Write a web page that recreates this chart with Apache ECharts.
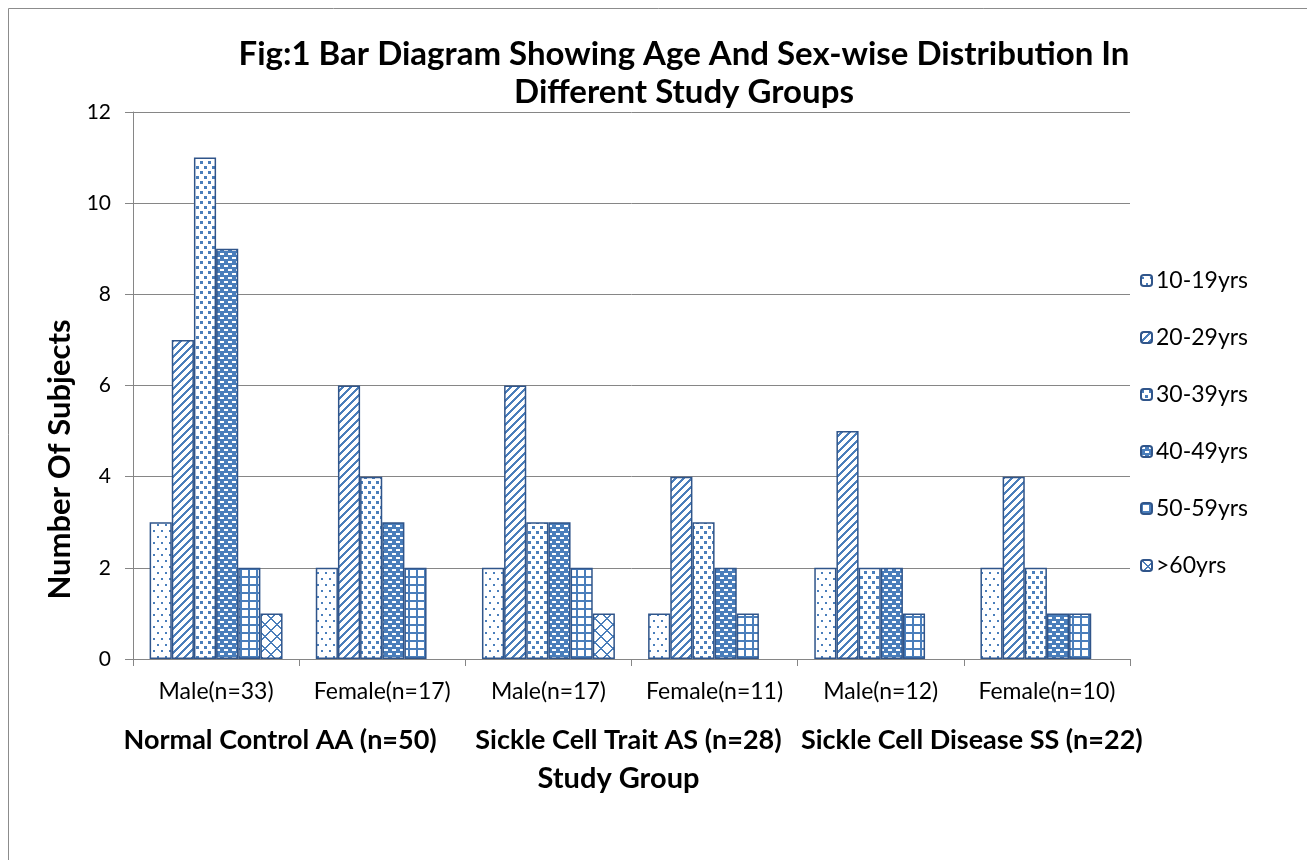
<!DOCTYPE html>
<html>
<head>
<meta charset="utf-8">
<script src="https://cdn.jsdelivr.net/npm/echarts@6/dist/echarts.min.js"></script>
<style>
html,body{margin:0;padding:0;background:#fff;}
#chart{width:1307px;height:860px;}
</style>
</head>
<body>
<div id="chart"></div>
<script>
const categories = ['Male(n=33)', 'Female(n=17)', 'Male(n=17)', 'Female(n=11)', 'Male(n=12)', 'Female(n=10)'];
const groups = ['Normal Control AA (n=50)', 'Sickle Cell Trait AS (n=28)', 'Sickle Cell Disease SS (n=22)'];
const seriesNames = ['10-19yrs', '20-29yrs', '30-39yrs', '40-49yrs', '50-59yrs', '>60yrs'];
const age10_19 = [3, 2, 2, 1, 2, 2];
const age20_29 = [7, 6, 6, 4, 5, 4];
const age30_39 = [11, 4, 3, 3, 2, 2];
const age40_49 = [9, 3, 3, 2, 2, 1];
const age50_59 = [2, 2, 2, 1, 1, 1];
const age60plus = [1, 0, 1, 0, 0, 0];
const yTicks = [0, 2, 4, 6, 8, 10, 12];

// style only: horizontal nudges (px) of the group labels
const groupLabelShift = [-19, -3, 8];

const BLUE = [74, 126, 187];
const WHITE = [255, 255, 255];
const FONT = 'Lato, "Liberation Sans", sans-serif';

function makeTile(w, h, fn) {
  const c = document.createElement('canvas');
  c.width = w; c.height = h;
  const ctx = c.getContext('2d');
  const img = ctx.createImageData(w, h);
  for (let y = 0; y < h; y++) {
    for (let x = 0; x < w; x++) {
      const col = fn(x, y) ? BLUE : WHITE;
      const i = (y * w + x) * 4;
      img.data[i] = col[0]; img.data[i + 1] = col[1]; img.data[i + 2] = col[2]; img.data[i + 3] = 255;
    }
  }
  ctx.putImageData(img, 0, 0);
  return c;
}

const patterns = [
  makeTile(8, 12, (x, y) => (x >= 1 && x <= 2 && y >= 2 && y <= 3) || (x >= 5 && x <= 6 && y >= 8 && y <= 9)),
  makeTile(8, 8, (x, y) => ((x + y) % 8) < 3),
  makeTile(8, 10, (x, y) => (x >= 0 && x <= 2 && y >= 1 && y <= 3) || (x >= 4 && x <= 6 && y >= 6 && y <= 8)),
  makeTile(8, 8, (x, y) => !((x >= 0 && x <= 3 && y >= 1 && y <= 2) || (x >= 4 && x <= 7 && y >= 5 && y <= 6))),
  makeTile(8, 8, (x, y) => x <= 1 || y <= 1),
  makeTile(12, 12, (x, y) => { const a = (x - y + 12) % 12; const b = (x + y) % 12; return a <= 1 || b <= 1; })
];

const allData = [age10_19, age20_29, age30_39, age40_49, age50_59, age60plus];

const series = allData.map((arr, i) => ({
  name: seriesNames[i],
  type: 'bar',
  xAxisIndex: 0,
  data: arr.map(v => v === 0 ? '-' : v),
  barGap: '0%',
  barCategoryGap: '20%',
  itemStyle: {
    color: { image: patterns[i], repeat: 'repeat' },
    borderColor: '#30558a',
    borderWidth: 1.5
  }
}));

const groupData = groups.map((g, i) => {
  const s = groupLabelShift[i];
  return {
    value: g,
    textStyle: { padding: s < 0 ? [0, -2 * s, 0, 0] : [0, 0, 0, 2 * s] }
  };
});

const chart = echarts.init(document.getElementById('chart'));
chart.setOption({
  animation: false,
  backgroundColor: '#fff',
  title: {
    text: 'Fig:1 Bar Diagram Showing Age And Sex-wise Distribution In\nDifferent Study Groups',
    left: 679,
    top: 30,
    textAlign: 'center',
    textStyle: { fontFamily: FONT, fontWeight: 'bold', fontSize: 33, lineHeight: 38, color: '#000' }
  },
  graphic: [{
    type: 'rect', shape: { x: 8.5, y: 8.5, width: 1320, height: 880 },
    style: { fill: 'none', stroke: '#8c8c8c', lineWidth: 1 }, silent: true
  }],
  legend: {
    orient: 'vertical',
    left: 1135,
    top: 264,
    itemWidth: 11,
    itemHeight: 11,
    itemGap: 34,
    data: seriesNames,
    textStyle: { fontFamily: FONT, fontSize: 23, color: '#000', padding: [0, 0, 0, -1] }
  },
  grid: { left: 133, right: 177, top: 112, bottom: 201, containLabel: false },
  xAxis: [{
    type: 'category',
    data: categories,
    position: 'bottom',
    axisLine: { lineStyle: { color: '#868686', width: 1 } },
    axisTick: { show: true, length: 7, lineStyle: { color: '#868686' } },
    axisLabel: { interval: 0, fontFamily: FONT, fontSize: 23, color: '#000', margin: 21 }
  }, {
    type: 'category',
    data: groupData,
    position: 'bottom',
    offset: 68,
    axisLine: { show: false },
    axisTick: { show: false },
    axisLabel: { interval: 0, fontFamily: FONT, fontSize: 27, fontWeight: 'bold', color: '#000', margin: 0 },
    name: 'Study Group',
    nameLocation: 'middle',
    nameGap: 37,
    nameTextStyle: { fontFamily: FONT, fontSize: 29, fontWeight: 'bold', color: '#000', padding: [0, 26, 0, 0] }
  }],
  yAxis: {
    type: 'value',
    min: yTicks[0],
    max: yTicks[yTicks.length - 1],
    interval: 2,
    axisLine: { show: true, lineStyle: { color: '#868686', width: 1 } },
    axisTick: { show: true, length: 8, lineStyle: { color: '#868686' } },
    axisLabel: { fontFamily: FONT, fontSize: 21, color: '#000', margin: 22 },
    splitLine: { lineStyle: { color: '#868686', width: 1 } },
    name: 'Number Of Subjects',
    nameLocation: 'middle',
    nameGap: 48,
    nameTextStyle: { fontFamily: FONT, fontSize: 31, fontWeight: 'bold', color: '#000', padding: [0, 148, 0, 0] }
  },
  series: series
});
</script>
</body>
</html>
